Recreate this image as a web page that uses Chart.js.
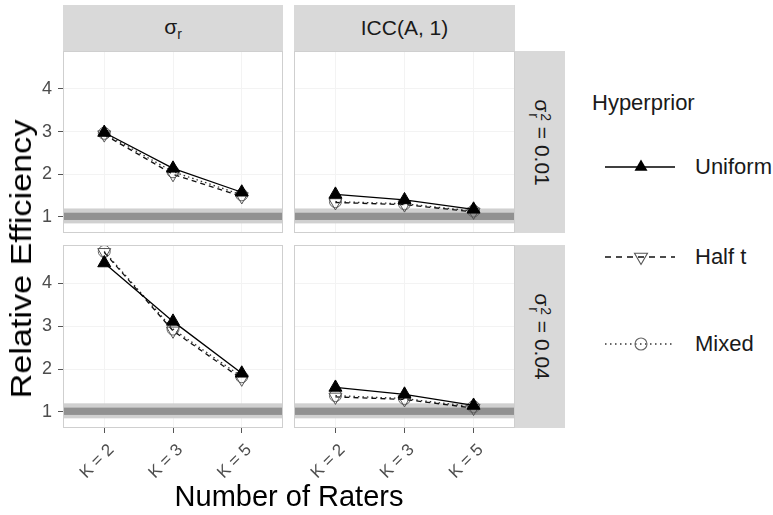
<!DOCTYPE html>
<html><head><meta charset="utf-8">
<script src="https://cdn.jsdelivr.net/npm/chart.js@4.4.1/dist/chart.umd.min.js"></script>
<style>
body{margin:0;background:#fff;}
#wrap{position:relative;width:773px;height:515px;overflow:hidden;font-family:'Liberation Sans',Arial,sans-serif;color:#1a1a1a;background:#fff;}
.strip{position:absolute;background:#d9d9d9;display:flex;align-items:center;justify-content:center;font-size:21px;color:#1a1a1a;}
.rot{white-space:nowrap;transform:rotate(90deg);line-height:1;}
.ss{display:inline-block;vertical-align:-6px;font-size:14px;line-height:12px;margin-left:1px;text-align:left;}
.ss span{display:block;}
.sub{font-size:14px;vertical-align:-5px;}
.cv{position:absolute;}
.txt{position:absolute;white-space:nowrap;line-height:1;}
</style></head>
<body>
<div id="wrap">
  <div class="strip" style="left:63px;top:5px;width:220px;height:46px;"><span>σ<span class="sub">r</span></span></div>
  <div class="strip" style="left:294px;top:5px;width:221px;height:46px;"><span>ICC(A, 1)</span></div>
  <div class="strip" style="left:515px;top:51px;width:50px;height:182px;"><span class="rot">σ<span class="ss"><span>2</span><span>r</span></span> = 0.01</span></div>
  <div class="strip" style="left:515px;top:245px;width:50px;height:183px;"><span class="rot">σ<span class="ss"><span>2</span><span>r</span></span> = 0.04</span></div>

  <canvas id="c11" class="cv" width="283" height="182" style="left:0;top:51px;"></canvas>
  <canvas id="c12" class="cv" width="221" height="182" style="left:294px;top:51px;"></canvas>
  <canvas id="c21" class="cv" width="283" height="268" style="left:0;top:245px;"></canvas>
  <canvas id="c22" class="cv" width="221" height="268" style="left:294px;top:245px;"></canvas>

  <div class="txt" style="left:21px;top:259px;font-size:30px;color:#000;transform:translate(-50%,-50%) rotate(-90deg) scaleX(1.14);">Relative Efficiency</div>
  <div class="txt" style="left:289px;top:482px;font-size:29px;color:#000;transform:translateX(-50%);">Number of Raters</div>

  <div class="txt" style="left:592px;top:92px;font-size:22px;color:#1a1a1a;">Hyperprior</div>
  <svg class="cv" style="left:605px;top:155px;" width="70" height="24">
    <line x1="0" y1="12" x2="70" y2="12" stroke="#000" stroke-width="1.4"/>
    <polygon points="36,4.5 42.5,15.75 29.5,15.75" fill="#000"/>
  </svg>
  <div class="txt" style="left:695px;top:156px;font-size:22px;color:#1a1a1a;">Uniform</div>
  <svg class="cv" style="left:605px;top:245px;" width="70" height="24">
    <line x1="0" y1="12" x2="70" y2="12" stroke="#111" stroke-width="1.4" stroke-dasharray="6,5"/>
    <polygon points="36,19.5 42.5,8.25 29.5,8.25" fill="none" stroke="#555" stroke-width="1.1"/>
  </svg>
  <div class="txt" style="left:695px;top:246px;font-size:22px;color:#1a1a1a;">Half t</div>
  <svg class="cv" style="left:605px;top:332px;" width="70" height="24">
    <line x1="0" y1="12" x2="70" y2="12" stroke="#333" stroke-width="1.4" stroke-dasharray="1.5,3.5"/>
    <circle cx="36" cy="12" r="6" fill="none" stroke="#666" stroke-width="1.1"/>
  </svg>
  <div class="txt" style="left:695px;top:333px;font-size:22px;color:#1a1a1a;">Mixed</div>
</div>
<script>
// ---- data ----
const categories = ['K = 2', 'K = 3', 'K = 5'];
const xPositions = [1, 2, 3];
const yTickValues = [1, 2, 3, 4];
const yRange = [0.625, 4.89];
const bandOuter = [0.85, 1.2];
const bandInner = [0.93, 1.1];

// row σr² = 0.01, column σr
const uniform_001_sigma = [2.98, 2.14, 1.58];
const halfT_001_sigma   = [2.93, 2.00, 1.48];
const mixed_001_sigma   = [2.96, 2.06, 1.52];
// row σr² = 0.01, column ICC(A, 1)
const uniform_001_icc = [1.53, 1.40, 1.18];
const halfT_001_icc   = [1.34, 1.29, 1.12];
const mixed_001_icc   = [1.36, 1.31, 1.14];
// row σr² = 0.04, column σr
const uniform_004_sigma = [4.47, 3.11, 1.90];
const halfT_004_sigma   = [4.72, 2.89, 1.77];
const mixed_004_sigma   = [4.74, 2.93, 1.82];
// row σr² = 0.04, column ICC(A, 1)
const uniform_004_icc = [1.57, 1.41, 1.15];
const halfT_004_icc   = [1.35, 1.29, 1.09];
const mixed_004_icc   = [1.38, 1.31, 1.12];

Chart.defaults.font.family = "'Liberation Sans', Arial, sans-serif";

const panelDeco = {
  id: 'panelDeco',
  beforeDatasetsDraw(chart) {
    const { ctx, chartArea: a, scales: { y } } = chart;
    ctx.save();
    let t = y.getPixelForValue(bandOuter[1]), b = y.getPixelForValue(bandOuter[0]);
    ctx.fillStyle = '#d0d0d0';
    ctx.fillRect(a.left, t, a.right - a.left, b - t);
    t = y.getPixelForValue(bandInner[1]); b = y.getPixelForValue(bandInner[0]);
    ctx.fillStyle = '#919191';
    ctx.fillRect(a.left, t, a.right - a.left, b - t);
    ctx.restore();
  },
  afterDraw(chart) {
    const { ctx, chartArea: a } = chart;
    ctx.save();
    ctx.strokeStyle = '#cfcfcf';
    ctx.lineWidth = 1;
    ctx.strokeRect(a.left + 0.5, a.top + 0.5, a.right - a.left - 1, a.bottom - a.top - 1);
    ctx.restore();
  }
};

function pts(arr) { return xPositions.map((x, i) => ({ x: x, y: arr[i] })); }
function noPad(s) { s.paddingTop = 0; s.paddingBottom = 0; s.paddingLeft = 0; s.paddingRight = 0; }

function makeChart(id, uni, half, mixed, showY, showX) {
  return new Chart(document.getElementById(id), {
    type: 'line',
    data: {
      datasets: [
        { label: 'Uniform', data: pts(uni), borderColor: '#000', borderWidth: 1.3,
          pointStyle: 'triangle', pointRadius: 7.5, pointBackgroundColor: '#000',
          pointBorderColor: '#000', pointBorderWidth: 1, tension: 0, clip: false },
        { label: 'Half t', data: pts(half), borderColor: '#111', borderWidth: 1.3, borderDash: [5, 4],
          pointStyle: 'triangle', pointRotation: 180, pointRadius: 7.5,
          pointBackgroundColor: 'rgba(0,0,0,0)', pointBorderColor: '#555', pointBorderWidth: 1,
          tension: 0, clip: false },
        { label: 'Mixed', data: pts(mixed), borderColor: '#333', borderWidth: 1.3, borderDash: [1.5, 3],
          pointStyle: 'circle', pointRadius: 6,
          pointBackgroundColor: 'rgba(0,0,0,0)', pointBorderColor: '#666', pointBorderWidth: 1,
          tension: 0, clip: false }
      ]
    },
    options: {
      responsive: false, animation: false, devicePixelRatio: 1,
      layout: { padding: 0, autoPadding: false },
      plugins: { legend: { display: false }, tooltip: { enabled: false } },
      scales: {
        x: {
          type: 'linear', min: 0.4, max: 3.6,
          afterBuildTicks: s => { s.ticks = xPositions.map(v => ({ value: v })); },
          afterFit: s => { s.height = showX ? 85 : 0; noPad(s); },
          ticks: { display: showX, autoSkip: false, minRotation: 45, maxRotation: 45,
                   font: { size: 17 }, color: '#4d4d4d', padding: 7, labelOffset: 7,
                   callback: (v, i) => categories[i] },
          grid: { color: '#f3f3f3', tickColor: '#555', tickLength: 5, drawTicks: showX },
          border: { display: false }
        },
        y: {
          type: 'linear', min: yRange[0], max: yRange[1],
          afterBuildTicks: s => { s.ticks = yTickValues.map(v => ({ value: v })); },
          afterFit: s => { s.width = showY ? 63 : 0; noPad(s); },
          ticks: { display: showY, font: { size: 18 }, color: '#4d4d4d', padding: 6,
                   callback: v => String(v) },
          grid: { color: '#f3f3f3', tickColor: '#555', tickLength: 5, drawTicks: showY },
          border: { display: false }
        }
      }
    },
    plugins: [panelDeco]
  });
}

makeChart('c11', uniform_001_sigma, halfT_001_sigma, mixed_001_sigma, true, false);
makeChart('c12', uniform_001_icc, halfT_001_icc, mixed_001_icc, false, false);
makeChart('c21', uniform_004_sigma, halfT_004_sigma, mixed_004_sigma, true, true);
makeChart('c22', uniform_004_icc, halfT_004_icc, mixed_004_icc, false, true);
</script>
</body></html>
